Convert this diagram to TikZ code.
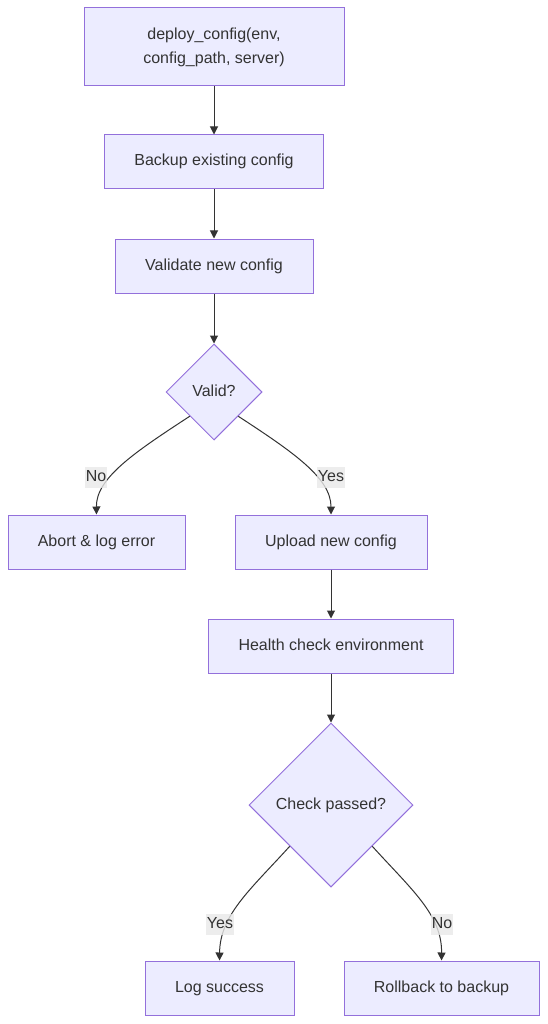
\documentclass[tikz,border=0pt]{standalone}
\usepackage{fontspec}
\setmainfont{Liberation Sans}
\usepackage{tikz}
\usetikzlibrary{arrows.meta,%
                shapes,positioning}
\definecolor{boxfill}{HTML}{ECECFF}
\definecolor{boxline}{HTML}{9370DB}
\definecolor{ink}{HTML}{333333}
\definecolor{lblfill}{HTML}{E8E8E8}

\begin{document}
\begin{tikzpicture}[x=1pt,y=-1pt,font=\fontsize{16}{24}\selectfont,text=ink,
  box/.style={draw=boxline,fill=boxfill,line width=1pt,inner sep=0pt,minimum height=54pt},
  plain/.style={box,text height=12pt,text depth=4pt},
  choice/.style={diamond,aspect=1,draw=boxline,fill=boxfill,line width=1pt,inner sep=0pt,text height=12pt,text depth=4pt},
  edge/.style={draw=ink,line width=1pt,-{Triangle[length=8pt,width=8pt]}},
  lbl/.style={fill=lblfill,fill opacity=0.8,text opacity=1,inner xsep=1pt,inner ysep=0pt,minimum height=21pt,text height=12pt,text depth=4pt}]
\useasboundingbox (0,0) rectangle (548,1024);
\node[box,minimum width=260pt,minimum height=78pt,align=center] (start) at (214,47) {deploy\_config(env,\\config\_path, server)};
\node[plain,minimum width=219pt] (backup) at (214,162) {Backup existing config};
\node[plain,minimum width=198pt] (validate) at (214,266) {Validate new config};
\node[choice,minimum width=96pt,minimum height=96pt] (valid) at (214,392) {Valid?};
\node[plain,minimum width=177pt] (abort) at (96.5,542) {Abort \& log error};
\node[plain,minimum width=192pt] (upload) at (331,542) {Upload new config};
\node[plain,minimum width=245pt] (health) at (331,646) {Health check environment};
\node[choice,minimum width=164pt,minimum height=164pt] (check) at (331,805) {Check passed?};
\node[plain,minimum width=149pt] (success) at (219.5,988) {Log success};
\node[plain,minimum width=195pt] (rollback) at (441.5,988) {Rollback to backup};
% straight edges
\draw[edge] (start) -- (backup);
\draw[edge] (backup) -- (validate);
\draw[edge] (validate) -- (valid);
\draw[edge] (upload) -- (health);
\draw[edge] (health) -- (check);
% branches
\draw[edge] (valid.south west) .. controls (135,452) and (96,478) .. (abort.north);
\draw[edge] (valid.south east) .. controls (293,452) and (331,478) .. (upload.north);
\draw[edge] (check.south west) .. controls (250,890) and (220,915) .. (success.north);
\draw[edge] (check.south east) .. controls (412,890) and (442,915) .. (rollback.north);
\node[lbl] (no1) at (96,477) {No};
\node[lbl] (yes1) at (331,477) {Yes};
\node[lbl] (yes2) at (220,924) {Yes};
\node[lbl] (no2) at (442,924) {No};
\end{tikzpicture}
\end{document}
